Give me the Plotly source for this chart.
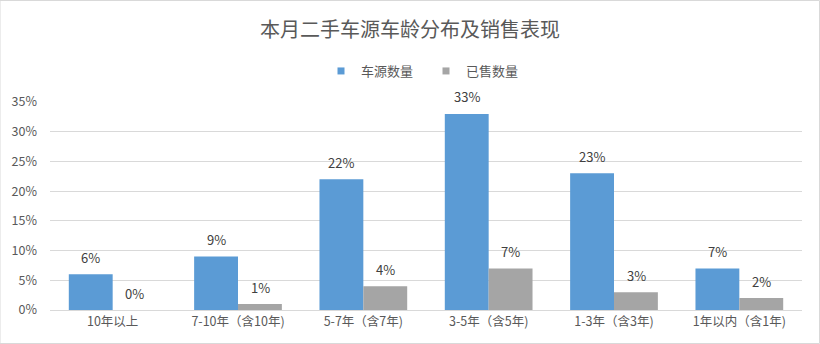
import plotly.graph_objects as go

categories = ["10年以上", "7-10年（含10年)", "5-7年（含7年)", "3-5年（含5年)", "1-3年（含3年)", "1年以内（含1年)"]
stock = [0.06, 0.09, 0.22, 0.33, 0.23, 0.07]
sold = [0.00, 0.01, 0.04, 0.07, 0.03, 0.02]
series_names = ["车源数量", "已售数量"]
y_ticks = [0, 0.05, 0.10, 0.15, 0.20, 0.25, 0.30, 0.35]

FONT = "Noto Sans CJK SC, Microsoft YaHei, sans-serif"
colors = ["#5B9BD5", "#A5A5A5"]

fig = go.Figure()
for name, vals, c in zip(series_names, [stock, sold], colors):
    fig.add_trace(go.Bar(
        x=categories, y=vals, name=name, marker=dict(color=c, line=dict(width=0)),
        offsetgroup=name, showlegend=False,
    ))
# legend entries with small square markers
for name, c in zip(series_names, colors):
    fig.add_trace(go.Scatter(
        x=[None], y=[None], mode="markers", name=name,
        marker=dict(symbol="square", size=7, color=c),
    ))

annotations = []
for k, vals in enumerate([stock, sold]):
    for i, v in enumerate(vals):
        annotations.append(dict(
            x=i, y=v, xref="x", yref="y", text=f"{round(v*100)}%", showarrow=False,
            yshift=17, xshift=(-22 if k == 0 else 22),
            font=dict(family=FONT, size=13, color="#404040"),
        ))

fig.update_layout(
    width=820, height=344,
    margin=dict(l=50, r=18, t=102, b=34),
    paper_bgcolor="white", plot_bgcolor="white",
    title=dict(text="本月二手车源车龄分布及销售表现", x=0.5, xanchor="center", y=0.913, yanchor="middle",
               font=dict(family=FONT, size=20, color="#595959")),
    legend=dict(orientation="h", x=0.5, xanchor="center", y=1 + 31/208, yanchor="middle",
                font=dict(family=FONT, size=13, color="#595959"), itemwidth=30, tracegroupgap=0,
                entrywidth=60, entrywidthmode="pixels"),
    barmode="group", bargap=0.3, bargroupgap=0,
    xaxis=dict(type="category", tickfont=dict(family=FONT, size=12.5, color="#595959"),
               showline=True, linecolor="#d9d9d9", linewidth=1, ticks="", showgrid=False),
    yaxis=dict(range=[0, 0.35], tickvals=y_ticks, tickformat=".0%",
               tickfont=dict(family=FONT, size=12.5, color="#595959"),
               showgrid=True, gridcolor="#d9d9d9", gridwidth=1, zeroline=False,
               showline=False, ticks="", ticklabelstandoff=12),
    annotations=annotations,
    showlegend=True,
    shapes=[dict(type="rect", xref="paper", yref="paper", x0=-50/752, x1=1+17.5/752, y0=-33.5/208, y1=1+101.5/208,
                 line=dict(color="#d9d9d9", width=1), fillcolor="rgba(0,0,0,0)")],
)

fig.write_html("out.html")
